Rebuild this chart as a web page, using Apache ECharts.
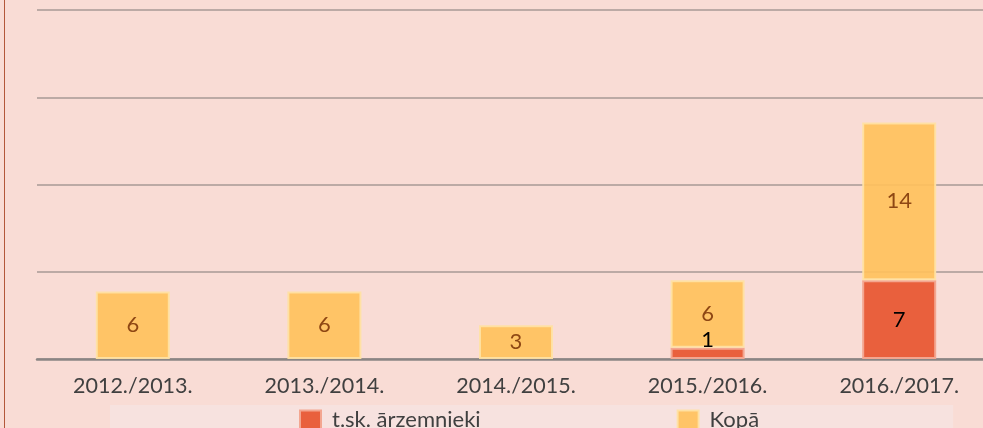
<!DOCTYPE html>
<html>
<head>
<meta charset="utf-8">
<script src="https://cdn.jsdelivr.net/npm/echarts@6/dist/echarts.min.js"></script>
<style>
  html, body { margin: 0; padding: 0; background: #f9dcd5; overflow: hidden; }
  #chart { width: 983px; height: 428px; }
  #edge { position: absolute; left: 4px; top: 0; width: 1px; height: 428px; background: #b3573a; }
</style>
</head>
<body>
<div id="chart"></div>
<div id="edge"></div>
<script>
const years = ["2012./2013.", "2013./2014.", "2014./2015.", "2015./2016.", "2016./2017."];
const foreigners = [0, 0, 0, 1, 7];
const total = [6, 6, 3, 6, 14];

const names = { foreigners: "t.sk. ārzemnieki", total: "Kopā" };
const font = "Lato, 'Open Sans', sans-serif";

const chart = echarts.init(document.getElementById("chart"));

chart.setOption({
  backgroundColor: "#f9dcd5",
  animation: false,
  grid: { left: 37, width: 958, top: 10, bottom: 69, containLabel: false, outerBoundsMode: "none" },
  legend: {
    data: [names.foreigners, names.total],
    top: 405,
    left: 110,
    padding: [4, 194, 4, 189],
    backgroundColor: "#f7e2df",
    icon: "rect",
    itemWidth: 21,
    itemHeight: 19,
    itemGap: 196,
    textStyle: { color: "#404040", fontSize: 22, fontFamily: font, padding: [0, 0, 0, 6] },
  },
  xAxis: {
    type: "category",
    data: years,
    axisTick: { show: false },
    axisLine: { lineStyle: { color: "#8a8584", width: 2.5 } },
    axisLabel: { color: "#404040", fontSize: 21.5, fontFamily: font, margin: 16 },
  },
  yAxis: {
    type: "value",
    min: 0,
    max: 31,
    interval: 7.75,
    axisLabel: { show: false },
    axisLine: { show: false },
    axisTick: { show: false },
    splitLine: { lineStyle: { color: "#bcaaa5", width: 2 } },
  },
  series: [
    {
      name: names.foreigners,
      type: "bar",
      stack: "all",
      barWidth: 74,
      data: foreigners.map((v) => v === 0 ? null : (v < 2
        ? { value: v, label: { position: "top", distance: -3 } }
        : v)),
      itemStyle: { color: "#e9603d", borderColor: "#f3a690", borderWidth: 2 },
      label: {
        show: true,
        position: "inside",
        color: "#000000",
        fontSize: 22,
        fontFamily: font,
      },
    },
    {
      name: names.total,
      type: "bar",
      stack: "all",
      barWidth: 74,
      data: total,
      itemStyle: { color: "#ffc15c", borderColor: "#ffe2a4", borderWidth: 2, opacity: 0.92 },
      label: {
        show: true,
        position: "inside",
        color: "#843c0c",
        fontSize: 22,
        fontFamily: font,
      },
    },
  ],
});
</script>
</body>
</html>
